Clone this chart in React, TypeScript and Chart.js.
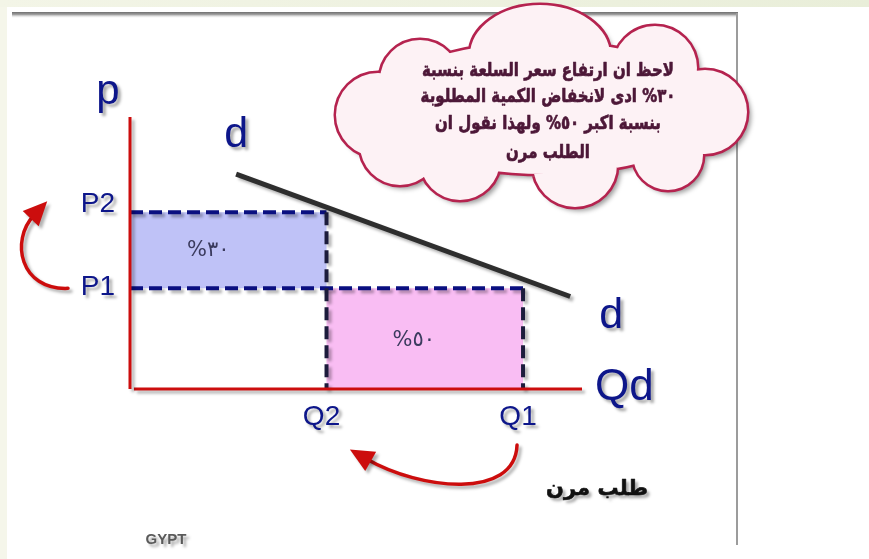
import React, { useEffect, useRef } from "react";
import { Chart, registerables } from "chart.js";

Chart.register(...registerables);

const CANVAS_W = 869;
const CANVAS_H = 559;

// ---- data ----
const quantityLabels = ["Q2", "Q1"];
const quantityValues = [50, 100];
const priceLabels = ["P2", "P1"];
const priceValues = [65, 37];
const demandQ = [27, 112];
const demandP = [79, 34];
const quantityMax = 115;
const priceMax = 100;
const changeLabels = ["%٣٠", "%٥٠"];
const curveLabel = "d";
const priceAxisTitle = "p";
const quantityAxisTitle = "Qd";
const noteLines = [
  "لاحظ ان ارتفاع سعر السلعة بنسبة",
  "٣٠% ادى لانخفاض الكمية المطلوبة",
  "بنسبة اكبر ٥٠% ولهذا نقول ان",
  "الطلب مرن",
];
const verdict = "طلب مرن";
const footerText = "GYPT";

const NAVY = "#0d168a";
const RED = "#cc0d0d";

function setShadow(ctx: CanvasRenderingContext2D, a = 0.35, off = 3, blur = 3) {
  ctx.shadowColor = `rgba(0,0,0,${a})`;
  ctx.shadowBlur = blur;
  ctx.shadowOffsetX = off;
  ctx.shadowOffsetY = off;
}

function drawText(
  ctx: CanvasRenderingContext2D,
  text: string,
  x: number,
  y: number,
  font: string,
  color: string,
  align: CanvasTextAlign,
  shadow: boolean,
  dir: CanvasDirection = "ltr",
  baseline: CanvasTextBaseline = "alphabetic",
  scaleX = 1,
  strokeW = 0
) {
  ctx.save();
  ctx.translate(x, y);
  ctx.scale(scaleX, 1);
  ctx.font = font;
  ctx.fillStyle = color;
  ctx.strokeStyle = color;
  ctx.textAlign = align;
  ctx.textBaseline = baseline;
  (ctx as any).direction = dir;
  if (shadow) setShadow(ctx, 0.35, 3, 3);
  ctx.fillText(text, 0, 0);
  if (strokeW > 0) {
    ctx.shadowColor = "rgba(0,0,0,0)";
    ctx.lineWidth = strokeW;
    ctx.lineJoin = "round";
    ctx.strokeText(text, 0, 0);
  }
  ctx.restore();
}

function drawArrow(
  ctx: CanvasRenderingContext2D,
  p0: number[],
  c1: number[],
  c2: number[],
  p1: number[],
  headLen: number,
  headHalf: number
) {
  ctx.save();
  setShadow(ctx, 0.3, 3, 3);
  ctx.strokeStyle = RED;
  ctx.fillStyle = RED;
  ctx.lineWidth = 3.5;
  ctx.lineCap = "round";
  ctx.beginPath();
  ctx.moveTo(p0[0], p0[1]);
  ctx.bezierCurveTo(c1[0], c1[1], c2[0], c2[1], p1[0], p1[1]);
  ctx.stroke();
  const dx = p1[0] - c2[0];
  const dy = p1[1] - c2[1];
  const L = Math.hypot(dx, dy);
  const ux = dx / L;
  const uy = dy / L;
  const tip = [p1[0] + ux * headLen * 0.8, p1[1] + uy * headLen * 0.8];
  const base = [tip[0] - ux * headLen, tip[1] - uy * headLen];
  const nx = -uy;
  const ny = ux;
  ctx.beginPath();
  ctx.moveTo(tip[0], tip[1]);
  ctx.lineTo(base[0] + nx * headHalf, base[1] + ny * headHalf);
  ctx.lineTo(base[0] - nx * headHalf, base[1] - ny * headHalf);
  ctx.closePath();
  ctx.fill();
  ctx.restore();
}

const backgroundPlugin = {
  id: "pageBackground",
  beforeDraw(chart: any) {
    const ctx: CanvasRenderingContext2D = chart.ctx;
    ctx.save();
    ctx.fillStyle = "#ffffff";
    ctx.fillRect(0, 0, CANVAS_W, CANVAS_H);
    ctx.fillStyle = "#f5f6ea";
    ctx.fillRect(0, 0, 7, CANVAS_H);
    const g = ctx.createLinearGradient(0, 0, CANVAS_W, 0);
    g.addColorStop(0, "#f3f5e7");
    g.addColorStop(1, "#e9eed9");
    ctx.fillStyle = g;
    ctx.fillRect(0, 0, CANVAS_W, 7);
    const g2 = ctx.createLinearGradient(0, 12, 0, 18);
    g2.addColorStop(0, "#6f6f6f");
    g2.addColorStop(0.4, "#9a9a9a");
    g2.addColorStop(1, "rgba(230,230,230,0)");
    ctx.fillStyle = g2;
    ctx.fillRect(12, 12, 726, 6);
    ctx.fillStyle = "#9c9c9c";
    ctx.fillRect(736, 13, 2, 532);
    ctx.restore();
  },
};

const shadowPlugin = {
  id: "markShadow",
  beforeDatasetDraw(chart: any, args: any) {
    const ds = chart.data.datasets[args.index];
    const ctx: CanvasRenderingContext2D = chart.ctx;
    ctx.save();
    if (ds.shadowOn) setShadow(ctx, 0.3, 3, 3);
  },
  afterDatasetDraw(chart: any) {
    chart.ctx.restore();
  },
};

const annotationPlugin = {
  id: "annotations",
  afterDraw(chart: any) {
    const ctx: CanvasRenderingContext2D = chart.ctx;
    const xs = chart.scales.x;
    const ys = chart.scales.y;
    const X = (v: number) => xs.getPixelForValue(v);
    const Y = (v: number) => ys.getPixelForValue(v);
    const x0 = X(0);
    const y0 = Y(0);
    const lab = "Liberation Sans, Arial, sans-serif";
    const arab = "'DejaVu Sans', sans-serif";

    // axis titles
    drawText(ctx, priceAxisTitle, x0 - 22, Y(priceMax) - 13, `42px ${lab}`, NAVY, "center", true);
    drawText(ctx, quantityAxisTitle, X(quantityMax) + 13, y0 + 11, `44px ${lab}`, NAVY, "left", true);

    // curve labels
    drawText(ctx, curveLabel, X(demandQ[0]), Y(demandP[0]) - 27, `43px ${lab}`, NAVY, "center", true);
    drawText(ctx, curveLabel, X(demandQ[1]) + 41, Y(demandP[1]) + 31, `43px ${lab}`, NAVY, "center", true);

    // price labels
    const pOffsets = [0, 7];
    priceLabels.forEach((t, i) => {
      drawText(ctx, t, x0 - 15, Y(priceValues[i]) + pOffsets[i], `28px ${lab}`, NAVY, "right", true);
    });
    // quantity labels
    quantityLabels.forEach((t, i) => {
      drawText(ctx, t, X(quantityValues[i]) - 5, y0 + 36, `28px ${lab}`, NAVY, "center", true);
    });

    // change labels inside the rectangles
    const [q2, q1] = quantityValues;
    const [p2, p1] = priceValues;
    drawText(ctx, changeLabels[0], (x0 + X(q2)) / 2 - 20, (Y(p2) + Y(p1)) / 2, `21px ${arab}`, "#3b3b5e", "center", false, "ltr", "middle");
    drawText(ctx, changeLabels[1], (X(q2) + X(q1)) / 2 - 11, (Y(p1) + y0) / 2 + 2, `21px ${arab}`, "#3b3b5e", "center", false, "ltr", "middle");

    // arrows
    const yp1 = Y(p1);
    const yp2 = Y(p2);
    drawArrow(ctx, [x0 - 62, yp1], [x0 - 110, yp1 + 2], [x0 - 120, yp1 - 48], [x0 - 96, yp2 + 3], 24, 11);
    const xq1 = X(q1);
    const xq2 = X(q2);
    drawArrow(ctx, [xq1 - 6, y0 + 56], [xq1 - 8, y0 + 111], [xq2 + 94, y0 + 101], [xq2 + 40, y0 + 70], 24, 11);

    // verdict + footer
    drawText(ctx, verdict, xq1 + 74, y0 + 106, `bold 21px ${arab}`, "#111111", "center", true, "rtl", "alphabetic", 1, 0.6);
    drawText(ctx, footerText, 166, 544, `bold 15px ${lab}`, "#5a5a5a", "center", true);

    // cloud
    const lobes = [
      [545, 108, 170, 66],
      [378, 115, 42, 42],
      [420, 80, 40, 40],
      [540, 55, 70, 50],
      [655, 68, 42, 42],
      [705, 112, 42, 42],
      [668, 155, 35, 35],
      [575, 165, 42, 42],
      [460, 160, 40, 40],
      [400, 145, 40, 40],
    ];
    const lobePath = () => {
      ctx.beginPath();
      lobes.forEach(([cx, cy, rx, ry]) => {
        ctx.moveTo(cx + rx, cy);
        ctx.ellipse(cx, cy, rx, ry, 0, 0, Math.PI * 2);
      });
    };
    ctx.save();
    setShadow(ctx, 0.4, 4, 5);
    lobePath();
    ctx.fillStyle = "#fdf2f5";
    ctx.fill();
    ctx.restore();
    ctx.save();
    lobePath();
    ctx.lineWidth = 5;
    ctx.strokeStyle = "#b5234f";
    ctx.stroke();
    lobePath();
    ctx.fillStyle = "#fdf2f5";
    ctx.fill();
    ctx.restore();

    // cloud text: taller glyphs, horizontally fitted to the first line's width
    const fs = 19;
    ctx.save();
    ctx.font = `bold ${fs}px ${arab}`;
    (ctx as any).direction = "rtl";
    const w = ctx.measureText(noteLines[0]).width;
    ctx.restore();
    const sx = Math.max(0.6, Math.min(1.2, 252 / w));
    const lineYs = [71, 97, 124, 153];
    noteLines.forEach((t, i) => {
      drawText(ctx, t, 548, lineYs[i], `bold ${fs}px ${arab}`, "#4d1838", "center", false, "rtl", "middle", sx, 0.7);
    });
  },
};

export default function App() {
  const ref = useRef<HTMLCanvasElement>(null);
  useEffect(() => {
    const canvas = ref.current;
    if (!canvas) return;
    const pt = (x: number, y: number) => ({ x, y });
    const [q2, q1] = quantityValues;
    const [p2, p1] = priceValues;
    const common = { showLine: true, pointRadius: 0, pointHoverRadius: 0, clip: false as any, tension: 0 };
    const datasets: any[] = [
      {
        ...common,
        label: "rise",
        data: [pt(0, p1), pt(0, p2), pt(q2, p2), pt(q2, p1), pt(0, p1)],
        fill: "shape",
        backgroundColor: "#bfc2f7",
        borderColor: "rgba(0,0,0,0)",
        borderWidth: 0,
        order: 9,
      },
      {
        ...common,
        label: "fall",
        data: [pt(q2, 0), pt(q2, p1), pt(q1, p1), pt(q1, 0), pt(q2, 0)],
        fill: "shape",
        backgroundColor: "#f9bdf3",
        borderColor: "rgba(0,0,0,0)",
        borderWidth: 0,
        order: 9,
      },
      {
        ...common,
        label: "P2 level",
        data: [pt(0, p2), pt(q2, p2)],
        borderColor: "#0a0f80",
        borderWidth: 4,
        borderDash: [13, 6],
        borderCapStyle: "butt",
        order: 6,
        shadowOn: true,
      },
      {
        ...common,
        label: "P1 level",
        data: [pt(0, p1), pt(q1, p1)],
        borderColor: "#0a0f80",
        borderWidth: 4,
        borderDash: [13, 6],
        borderCapStyle: "butt",
        order: 6,
        shadowOn: true,
      },
      {
        ...common,
        label: "Q2 level",
        data: [pt(q2, p2), pt(q2, 0)],
        borderColor: "#1c1c3c",
        borderWidth: 4,
        borderDash: [13, 6],
        borderCapStyle: "butt",
        order: 5,
        shadowOn: true,
      },
      {
        ...common,
        label: "Q1 level",
        data: [pt(q1, p1), pt(q1, 0)],
        borderColor: "#1c1c3c",
        borderWidth: 4,
        borderDash: [13, 6],
        borderCapStyle: "butt",
        order: 5,
        shadowOn: true,
      },
      {
        ...common,
        label: "price axis",
        data: [pt(0, 0), pt(0, priceMax)],
        borderColor: RED,
        borderWidth: 3,
        order: 4,
        shadowOn: true,
      },
      {
        ...common,
        label: "quantity axis",
        data: [pt(1, 0), pt(quantityMax, 0)],
        borderColor: RED,
        borderWidth: 3,
        order: 4,
        shadowOn: true,
      },
      {
        ...common,
        label: "demand",
        data: demandQ.map((q, i) => pt(q, demandP[i])),
        borderColor: "#2e2e2e",
        borderWidth: 5,
        borderCapStyle: "butt",
        order: 2,
        shadowOn: true,
      },
    ];
    const chart = new Chart(canvas, {
      type: "scatter",
      data: { datasets },
      options: {
        responsive: false,
        animation: false,
        devicePixelRatio: 1,
        events: [],
        layout: { padding: { left: 130, right: 287, top: 117, bottom: 170 } },
        scales: {
          x: { type: "linear", min: 0, max: quantityMax, display: false },
          y: { type: "linear", min: 0, max: priceMax, display: false },
        },
        plugins: { legend: { display: false }, tooltip: { enabled: false } },
      } as any,
      plugins: [backgroundPlugin, shadowPlugin, annotationPlugin],
    });
    return () => chart.destroy();
  }, []);
  return (
    <div style={{ position: "absolute", left: 0, top: 0, width: CANVAS_W, height: CANVAS_H }}>
      <canvas ref={ref} width={CANVAS_W} height={CANVAS_H} style={{ display: "block" }} />
    </div>
  );
}
